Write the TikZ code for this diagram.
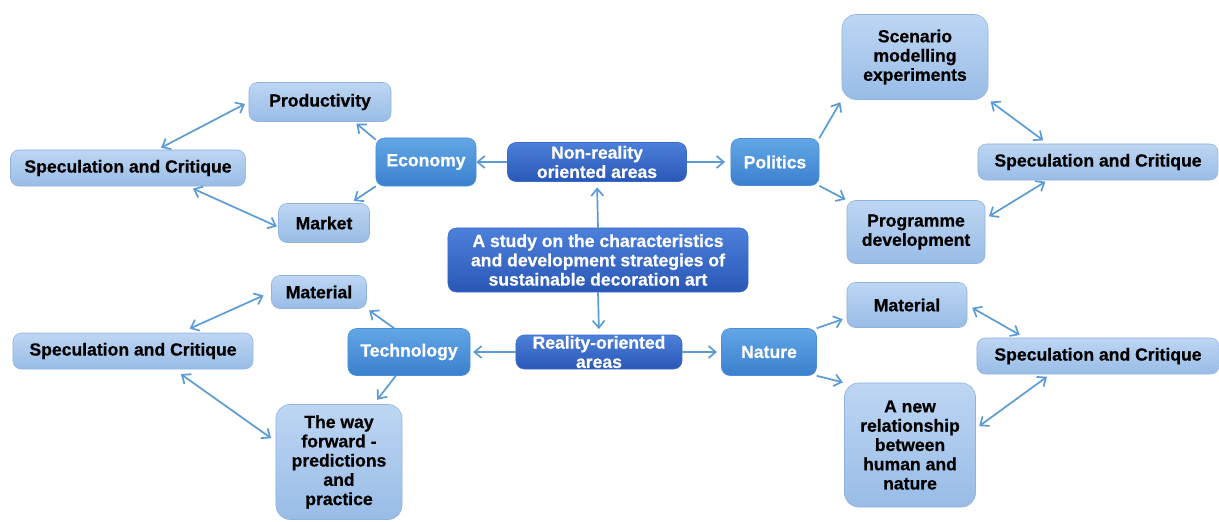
\documentclass[tikz,border=0pt]{standalone}
\usepackage{fontspec}
\setmainfont{Liberation Sans}[BoldFeatures={FakeBold=0.6}]
\usepackage{tikz}
\usetikzlibrary{arrows.meta}

\definecolor{maintop}{HTML}{4C80DA}
\definecolor{mainbot}{HTML}{2A57B6}
\definecolor{mainedge}{HTML}{3A6BC8}
\definecolor{areatop}{HTML}{62A6E6}
\definecolor{areabot}{HTML}{3B80CE}
\definecolor{areaedge}{HTML}{4A8FD6}
\definecolor{leaftop}{HTML}{BDD6F3}
\definecolor{leafbot}{HTML}{99BCE6}
\definecolor{leafedge}{HTML}{8FB3DE}
\definecolor{linkblue}{HTML}{5B9BD5}

\begin{document}
\begin{tikzpicture}[x=0.025cm, y=-0.025cm,
        font=\bfseries\fontsize{12.5}{13.7}\selectfont,
        >={Straight Barb[length=1.8mm,width=3mm]},
        box/.style = {rounded corners=6pt, align=center, inner sep=0pt},
        main/.style = {box, draw=mainedge, top color=maintop, bottom color=mainbot, text=white},
        area/.style = {box, draw=areaedge, top color=areatop, bottom color=areabot, text=white},
        leaf/.style = {box, draw=leafedge, top color=leaftop, bottom color=leafbot},
        big/.style = {rounded corners=10pt},
        conn/.style = {draw=linkblue, line width=1.2pt}]
            \useasboundingbox (0,0) rectangle (1219,521);

            \node[main, minimum width=7.5cm, minimum height=1.6cm] (study) at (598,260) {A study on the characteristics\\and development strategies of\\sustainable decoration art};
            \node[main, minimum width=4.475cm, minimum height=0.975cm] (nonreal) at (597,162) {Non-reality\\oriented areas};
            \node[main, minimum width=4.15cm, minimum height=0.85cm] (real) at (599,352) {Reality-oriented\\areas};

            \node[area, minimum width=2.5cm, minimum height=1.2cm] (economy) at (426,162) {Economy};
            \node[area, minimum width=2.2cm, minimum height=1.175cm] (politics) at (775,162) {Politics};
            \node[area, minimum width=3.05cm, minimum height=1.175cm] (technology) at (409,352) {Technology};
            \node[area, minimum width=2.375cm, minimum height=1.175cm] (nature) at (769,352) {Nature};

            \node[leaf, minimum width=3.55cm, minimum height=0.975cm] (productivity) at (320,102) {Productivity};
            \node[leaf, minimum width=2.275cm, minimum height=0.975cm] (market) at (324,223) {Market};
            \node[leaf, minimum width=5.875cm, minimum height=0.9cm] (specA) at (128,168) {Speculation and Critique};

            \node[leaf, big, minimum width=3.65cm, minimum height=2.125cm] (scenario) at (915,57) {Scenario\\modelling\\experiments};
            \node[leaf, minimum width=3.45cm, minimum height=1.575cm] (programme) at (916,232) {Programme\\development};
            \node[leaf, minimum width=6cm, minimum height=0.9cm] (specB) at (1098,162) {Speculation and Critique};

            \node[leaf, minimum width=2.375cm, minimum height=0.825cm] (materialA) at (319,292) {Material};
            \node[leaf, big, minimum width=3.15cm, minimum height=2.875cm] (forward) at (339,462) {The way\\forward -\\predictions\\and\\practice};
            \node[leaf, minimum width=6cm, minimum height=0.9cm] (specC) at (133,351) {Speculation and Critique};

            \node[leaf, minimum width=3cm, minimum height=1.125cm] (materialB) at (907,305) {Material};
            \node[leaf, big, minimum width=3.275cm, minimum height=3.1cm] (relation) at (910,445) {A new\\relationship\\between\\human and\\nature};
            \node[leaf, minimum width=6.05cm, minimum height=0.9cm] (specD) at (1098,356) {Speculation and Critique};

            \draw[conn, ->, shorten >=4pt] (study.north) -- (nonreal.south);
            \draw[conn, ->, shorten >=4pt] (study.south) -- (real.north);
            \draw[conn, ->] (nonreal.west) -- (economy.east);
            \draw[conn, ->, shorten >=4pt] (nonreal.east) -- (politics.west);
            \draw[conn, ->, shorten >=2pt] (real.west) -- (technology.east);
            \draw[conn, ->, shorten >=3pt] (real.east) -- (nature.west);

            \draw[conn, ->, shorten >=2pt] (economy.156) -- (productivity.-30);
            \draw[conn, ->, shorten >=3pt] (economy.south west) -- (market.37);
            \draw[conn, <->, shorten <=3pt, shorten >=3pt] (specA.32) -- (productivity.west);
            \draw[conn, <->, shorten <=4pt, shorten >=1pt] (specA.-17) -- (market.185);

            \draw[conn, ->, shorten >=2pt] (politics.north east) -- (scenario.south west);
            \draw[conn, ->, shorten >=1pt] (politics.south east) -- (programme.north west);
            \draw[conn, <->, shorten <=2pt, shorten >=4pt] (scenario.south east) -- (specB.160);
            \draw[conn, <->, shorten <=2pt, shorten >=3pt] (specB.200) -- (programme.11);

            \draw[conn, ->, shorten >=2pt] (technology.122) -- (materialA.south east);
            \draw[conn, ->, shorten >=4pt] (technology.241) -- (forward.59);
            \draw[conn, <->, shorten <=7pt, shorten >=6pt] (specC.21) -- (materialA.west);
            \draw[conn, <->, shorten <=6pt, shorten >=4pt] (specC.-24) -- (forward.162);

            \draw[conn, ->, shorten >=3pt] (nature.north east) -- (materialB.192);
            \draw[conn, ->, shorten >=1pt] (nature.south east) -- (relation.north west);
            \draw[conn, <->, shorten <=4pt, shorten >=4pt] (materialB.east) -- (specD.166);
            \draw[conn, <->, shorten <=3pt, shorten >=3pt] (specD.201) -- (relation.14);
        \end{tikzpicture}
\end{document}
